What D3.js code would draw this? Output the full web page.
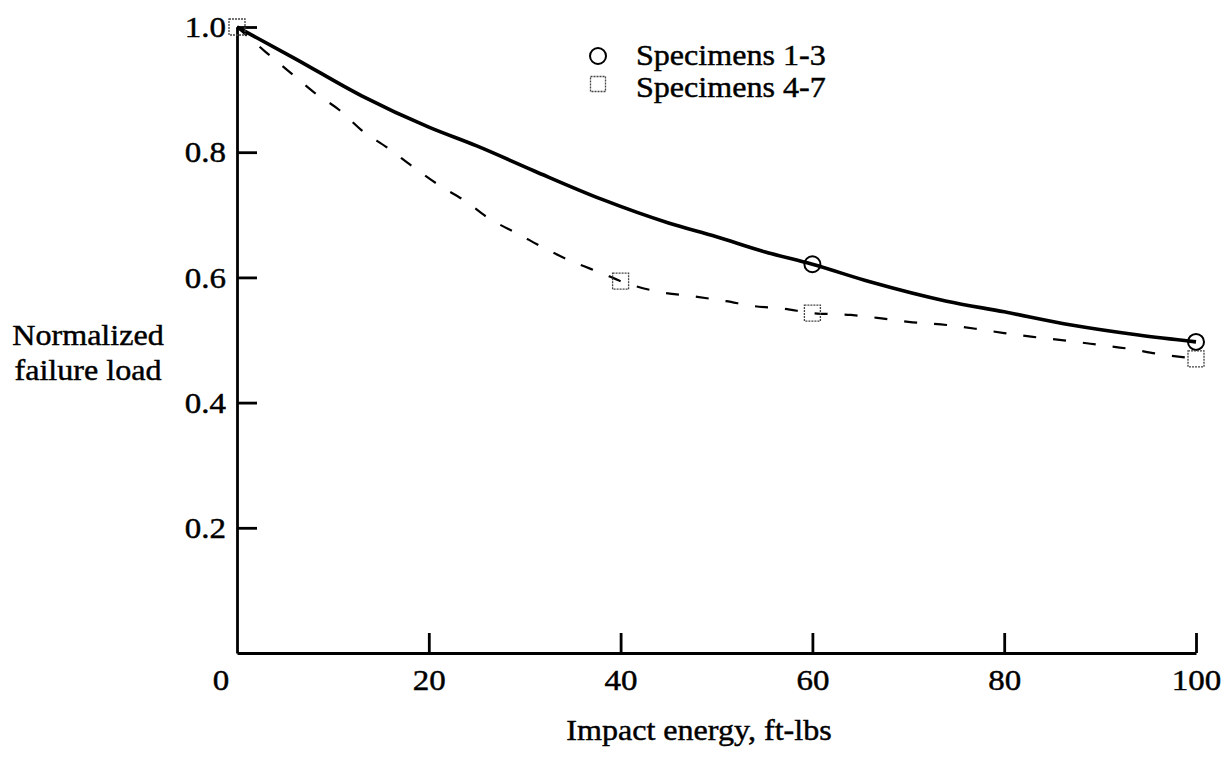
<!DOCTYPE html>
<html>
<head>
<meta charset="utf-8">
<script src="https://cdn.jsdelivr.net/npm/d3@7"></script>
<style>
  body { margin: 0; background: #fff; }
  text { font-family: "Liberation Serif", "Times New Roman", "DejaVu Serif", serif; fill: #000; stroke: #000; stroke-width: 0.45px; }
</style>
</head>
<body>
<div id="chart"></div>
<script>
// Data
const xTicks = [20, 40, 60, 80, 100];
const yTicks = [0.2, 0.4, 0.6, 0.8, 1.0];

// Fitted curve, specimens 1-3 (solid)
const fitEnergy1 = [0, 6, 13, 20, 25, 31, 38, 45, 50, 55, 60, 66, 74, 80, 87, 94, 100];
const fitLoad1 = [1.0, 0.95, 0.89, 0.84, 0.81, 0.77, 0.725, 0.687, 0.665, 0.641, 0.621, 0.593, 0.562, 0.545, 0.524, 0.508, 0.497];

// Fitted curve, specimens 4-7 (dashed)
const fitEnergy2 = [0, 3, 5.5, 8, 10.7, 13, 15.7, 18.4, 21, 24, 26, 29.5, 32, 35, 38, 40, 44, 48, 51, 54, 57, 60, 64, 67, 70, 74, 77, 80, 83, 87, 90, 93, 96, 100];
const fitLoad2 = [1.0, 0.96, 0.928, 0.896, 0.867, 0.835, 0.807, 0.776, 0.748, 0.72, 0.697, 0.668, 0.647, 0.625, 0.607, 0.594, 0.577, 0.569, 0.562, 0.554, 0.55, 0.543, 0.54, 0.535, 0.529, 0.524, 0.518, 0.511, 0.505, 0.498, 0.492, 0.486, 0.478, 0.47];

// Measured points
const circleEnergy = [60, 100];
const circleLoad = [0.621, 0.497];
const squareEnergy = [0, 40, 60, 100];
const squareLoad = [1.0, 0.594, 0.543, 0.47];

const legendLabels = ["Specimens 1-3", "Specimens 4-7"];

const W = 1229, H = 761;
const margin = { top: 27, right: 33, bottom: 108, left: 237 };
const width = W - margin.left - margin.right;
const height = H - margin.top - margin.bottom;

const x = d3.scaleLinear().domain([0, 100]).range([0, width]);
const y = d3.scaleLinear().domain([0, 1.0]).range([height, 0]);

const svg = d3.select("#chart")
    .append("svg")
        .attr("width", W)
        .attr("height", H)
    .append("g")
        .attr("transform", `translate(${margin.left},${margin.top})`)
;

// The scanned lettering is wider than Times, so stretch text horizontally about its anchor
function stretch(sel, sx) {
    sel.attr("transform", function () {
        const a = +this.getAttribute("x") || 0;
        const b = +this.getAttribute("y") || 0;
        return `translate(${a},${b}) scale(${sx},1) translate(${-a},${-b})`;
    });
}

// Axes, ticks pointing inward
svg.append("g")
    .attr("transform", `translate(0,${height})`)
    .call(d3.axisBottom(x)
        .tickValues(xTicks)
        .tickSizeInner(-20)
        .tickSizeOuter(0)
        .tickPadding(16)
        .tickFormat(d3.format("d"))
    )
    .call(g => g.selectAll("line, path").attr("stroke", "#000").attr("stroke-width", 2.8))
    .call(g => g.selectAll("text").attr("font-size", 30).attr("font-family", null).call(stretch, 1.1))
;
svg.append("g")
    .call(d3.axisLeft(y)
        .tickValues(yTicks)
        .tickSizeInner(-20)
        .tickSizeOuter(0)
        .tickPadding(11)
        .tickFormat(d3.format(".1f"))
    )
    .call(g => g.selectAll("line, path").attr("stroke", "#000").attr("stroke-width", 2.8))
    .call(g => g.selectAll("text").attr("font-size", 30).attr("font-family", null).call(stretch, 1.1))
;

// Origin label
svg.append("text")
    .attr("x", x(0) - 16)
    .attr("y", height + 37)
    .attr("text-anchor", "middle")
    .attr("font-size", 30)
    .text("0")
    .call(stretch, 1.1)
;

// Fitted curves
const line = d3.line()
    .x(d => x(d[0]))
    .y(d => y(d[1]))
    .curve(d3.curveMonotoneX)
;
svg.append("path")
    .datum(d3.zip(fitEnergy1, fitLoad1))
    .attr("d", line)
    .attr("fill", "none")
    .attr("stroke", "#000")
    .attr("stroke-width", 3.6)
;
svg.append("path")
    .datum(d3.zip(fitEnergy2, fitLoad2))
    .attr("d", line)
    .attr("fill", "none")
    .attr("stroke", "#000")
    .attr("stroke-width", 2.2)
    .attr("stroke-dasharray", "13,17")
;

// Markers
svg.append("g")
    .selectAll("circle")
    .data(d3.zip(circleEnergy, circleLoad))
    .join("circle")
        .attr("cx", d => x(d[0]))
        .attr("cy", d => y(d[1]))
        .attr("r", 8)
        .attr("fill", "none")
        .attr("stroke", "#000")
        .attr("stroke-width", 2)
;
const sq = 16;
svg.append("g")
    .selectAll("rect")
    .data(d3.zip(squareEnergy, squareLoad))
    .join("rect")
        .attr("x", d => x(d[0]) - sq / 2)
        .attr("y", d => y(d[1]) - sq / 2)
        .attr("width", sq)
        .attr("height", sq)
        .attr("fill", "none")
        .attr("stroke", "#444")
        .attr("stroke-width", 1.3)
        .attr("stroke-dasharray", "2,1")
;

// Legend
const legend = svg.append("g")
    .attr("transform", `translate(${598 - margin.left},${56 - margin.top})`)
;
legend.append("circle")
    .attr("r", 8)
    .attr("fill", "none")
    .attr("stroke", "#000")
    .attr("stroke-width", 2)
;
legend.append("rect")
    .attr("x", -7.5)
    .attr("y", 20.5)
    .attr("width", 15)
    .attr("height", 15)
    .attr("fill", "none")
    .attr("stroke", "#444")
    .attr("stroke-width", 1.3)
    .attr("stroke-dasharray", "2,1")
;
legend.selectAll("text.legend-label")
    .data(legendLabels)
    .join("text")
        .attr("class", "legend-label")
        .attr("x", 38)
        .attr("y", (d, i) => 9 + i * 32)
        .attr("font-size", 30)
        .text(d => d)
        .call(stretch, 1.07)
;

// Axis titles
const yTitle = svg.append("text")
    .attr("x", 88 - margin.left)
    .attr("y", 345 - margin.top)
    .attr("text-anchor", "middle")
    .attr("font-size", 30)
    .call(stretch, 1.07)
;
yTitle.append("tspan").attr("x", 88 - margin.left).attr("y", 345 - margin.top).text("Normalized");
yTitle.append("tspan").attr("x", 88 - margin.left).attr("y", 380 - margin.top).text("failure load");

svg.append("text")
    .attr("x", 699 - margin.left)
    .attr("y", 740 - margin.top)
    .attr("text-anchor", "middle")
    .attr("font-size", 30)
    .text("Impact energy, ft-lbs")
    .call(stretch, 1.07)
;
</script>
</body>
</html>
